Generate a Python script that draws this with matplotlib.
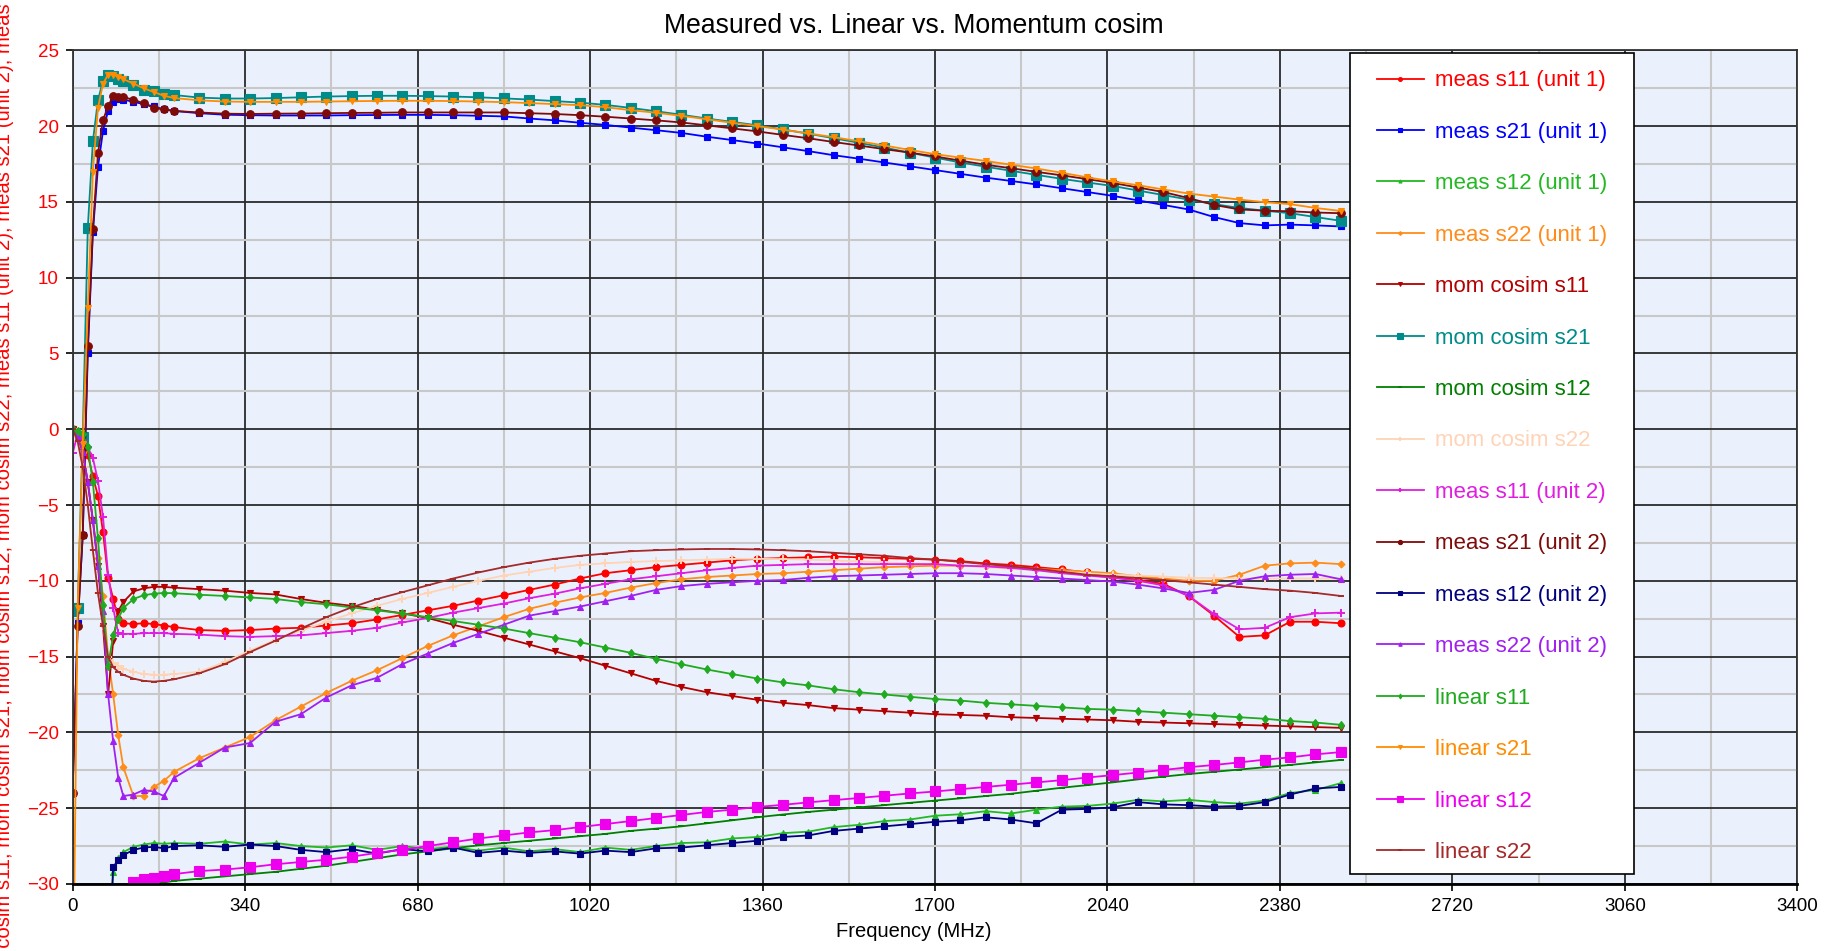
import numpy as np
import matplotlib
matplotlib.use("Agg")
import matplotlib.pyplot as plt
from matplotlib.patches import Rectangle
from matplotlib.ticker import MultipleLocator

plt.rcParams['font.family'] = ['Liberation Sans', 'DejaVu Sans']

# frequency points (MHz): fine steps over the rise, 50 MHz after that
freq = np.array([0, 10, 20, 30, 40, 50, 60, 70, 80, 90, 100, 120, 140, 160, 180, 200]
                + list(range(250, 2501, 50)))

# ---- measured, unit 1 ----
meas_s11_u1 = [0, -0.3, -0.9, -1.7, -3.1, -4.4, -6.8, -9.8, -11.2, -12.5, -12.8, -12.85, -12.8, -12.85, -12.95, -13.05,
               -13.25, -13.3, -13.25, -13.15, -13.1, -12.95, -12.8, -12.55, -12.25, -11.95,
               -11.65, -11.3, -10.95, -10.6, -10.25, -9.85, -9.5, -9.3, -9.1, -8.95,
               -8.8, -8.65, -8.55, -8.5, -8.45, -8.4, -8.45, -8.5, -8.55, -8.6,
               -8.7, -8.85, -8.95, -9.1, -9.25, -9.45, -9.7, -9.95, -10.2, -11.0,
               -12.3, -13.7, -13.6, -12.7, -12.7, -12.8]
meas_s21_u1 = [-24, -12.8, -7.0, 5.0, 13.0, 17.3, 19.7, 21.0, 21.6, 21.8, 21.75, 21.6, 21.45, 21.3, 21.1, 21.0,
               20.85, 20.75, 20.72, 20.7, 20.7, 20.7, 20.72, 20.73, 20.74, 20.74,
               20.72, 20.68, 20.64, 20.5, 20.38, 20.22, 20.08, 19.9, 19.73, 19.55,
               19.3, 19.08, 18.85, 18.6, 18.35, 18.08, 17.85, 17.6, 17.35, 17.1,
               16.85, 16.6, 16.38, 16.15, 15.9, 15.65, 15.4, 15.1, 14.8, 14.5,
               14.0, 13.6, 13.45, 13.5, 13.45, 13.38]
meas_s12_u1 = [-45, -45, -45, -44, -42, -40, -38, -36, -29.2, -28.3, -27.9, -27.55, -27.4, -27.3, -27.35, -27.3,
               -27.35, -27.2, -27.4, -27.3, -27.5, -27.6, -27.45, -27.75, -27.5, -27.7,
               -27.55, -27.8, -27.6, -27.85, -27.7, -27.9, -27.6, -27.75, -27.5, -27.3,
               -27.25, -27.0, -26.9, -26.65, -26.55, -26.25, -26.1, -25.85, -25.75, -25.5,
               -25.4, -25.2, -25.35, -25.1, -24.9, -24.85, -24.7, -24.45, -24.55, -24.45,
               -24.6, -24.7, -24.5, -24.0, -23.8, -23.35]
meas_s22_u1 = [0, -0.5, -1.5, -3.5, -6.0, -8.5, -11.0, -15.0, -17.5, -20.2, -22.3, -24.2, -24.2, -23.6, -23.2, -22.6,
               -21.7, -21.0, -20.3, -19.2, -18.3, -17.4, -16.6, -15.9, -15.1, -14.3,
               -13.6, -13.0, -12.4, -11.85, -11.45, -11.1, -10.8, -10.45, -10.15, -9.9,
               -9.75, -9.65, -9.55, -9.5, -9.4, -9.3, -9.2, -9.1, -9.05, -9.0,
               -9.0, -9.05, -9.1, -9.2, -9.3, -9.4, -9.5, -9.7, -9.85, -10.0,
               -10.0, -9.6, -9.0, -8.85, -8.8, -8.9]

# ---- momentum co-simulation ----
mom_s11 = [0, -0.5, -1.5, -3.5, -6.0, -9.0, -13.0, -17.5, -14.0, -12.0, -11.4, -10.7, -10.5, -10.4, -10.4, -10.45,
           -10.55, -10.65, -10.8, -10.9, -11.2, -11.45, -11.65, -11.9, -12.15, -12.45,
           -12.9, -13.3, -13.75, -14.2, -14.65, -15.1, -15.6, -16.1, -16.6, -17.0,
           -17.35, -17.6, -17.85, -18.05, -18.2, -18.4, -18.5, -18.6, -18.7, -18.8,
           -18.85, -18.9, -19.0, -19.05, -19.1, -19.15, -19.2, -19.3, -19.35, -19.4,
           -19.45, -19.5, -19.55, -19.6, -19.65, -19.7]
mom_s21 = [-12.0, -11.8, -0.5, 13.3, 19.0, 21.7, 23.0, 23.35, 23.3, 23.1, 22.95, 22.7, 22.4, 22.3, 22.15, 22.05,
           21.88, 21.82, 21.82, 21.85, 21.9, 21.95, 21.98, 22.0, 22.0, 21.98,
           21.95, 21.9, 21.83, 21.75, 21.65, 21.55, 21.4, 21.2, 20.98, 20.75,
           20.5, 20.28, 20.05, 19.78, 19.5, 19.2, 18.9, 18.58, 18.25, 17.92,
           17.6, 17.32, 17.05, 16.78, 16.52, 16.28, 16.05, 15.75, 15.45, 15.15,
           14.85, 14.6, 14.42, 14.25, 14.0, 13.75]
mom_s12 = [-50, -48, -45, -42, -40, -38, -36, -34.5, -33.2, -32.2, -31.5, -30.8, -30.35, -30.0, -29.9, -29.8,
           -29.65, -29.5, -29.35, -29.2, -29.0, -28.8, -28.55, -28.3, -28.05, -27.85,
           -27.65, -27.45, -27.3, -27.15, -27.0, -26.85, -26.7, -26.5, -26.35, -26.2,
           -26.0, -25.8, -25.6, -25.42, -25.25, -25.1, -24.95, -24.8, -24.65, -24.5,
           -24.35, -24.2, -24.05, -23.85, -23.65, -23.48, -23.3, -23.1, -22.92, -22.75,
           -22.6, -22.45, -22.3, -22.15, -21.98, -21.82]
mom_s22 = [0, -0.8, -2.5, -5.0, -8.0, -10.8, -13.0, -15.0, -15.4, -15.6, -15.8, -16.0, -16.15, -16.2, -16.2, -16.15,
           -16.0, -15.35, -14.6, -13.9, -13.3, -12.7, -12.15, -11.65, -11.2, -10.8,
           -10.4, -10.0, -9.65, -9.4, -9.15, -8.95, -8.85, -8.75, -8.7, -8.65,
           -8.6, -8.55, -8.55, -8.57, -8.6, -8.66, -8.72, -8.78, -8.85, -8.9,
           -9.0, -9.1, -9.2, -9.3, -9.4, -9.5, -9.6, -9.65, -9.72, -9.8,
           -9.82, -9.85, -9.85, -9.85, -9.85, -9.85]

# ---- measured, unit 2 ----
meas_s11_u2 = [-1.6, -0.3, -0.7, -1.2, -1.9, -3.4, -5.8, -9.6, -11.8, -13.45, -13.5, -13.5, -13.45, -13.45, -13.45, -13.5,
               -13.55, -13.65, -13.7, -13.65, -13.6, -13.45, -13.3, -13.1, -12.75, -12.45,
               -12.1, -11.8, -11.5, -11.15, -10.85, -10.5, -10.2, -9.9, -9.7, -9.5,
               -9.3, -9.15, -9.0, -8.95, -8.9, -8.9, -8.9, -8.9, -8.9, -8.9,
               -9.0, -9.05, -9.15, -9.3, -9.5, -9.65, -9.8, -10.0, -10.3, -11.0,
               -12.2, -13.2, -13.1, -12.4, -12.15, -12.1]
meas_s21_u2 = [-24, -13.0, -7.0, 5.5, 13.2, 18.2, 20.4, 21.3, 22.0, 21.95, 21.9, 21.75, 21.5, 21.2, 21.1, 21.0,
               20.9, 20.82, 20.8, 20.82, 20.83, 20.85, 20.87, 20.88, 20.9, 20.9,
               20.9, 20.9, 20.9, 20.85, 20.8, 20.72, 20.62, 20.5, 20.38, 20.24,
               20.05, 19.85, 19.65, 19.42, 19.2, 18.95, 18.72, 18.48, 18.25, 18.0,
               17.72, 17.45, 17.22, 16.98, 16.75, 16.5, 16.25, 15.95, 15.65, 15.25,
               14.8, 14.5, 14.42, 14.38, 14.3, 14.25]
meas_s12_u2 = [-45, -45, -45, -44, -42, -40, -38, -36, -28.9, -28.4, -28.1, -27.75, -27.6, -27.55, -27.65, -27.5,
               -27.45, -27.55, -27.4, -27.5, -27.75, -27.9, -27.7, -28.0, -27.7, -27.85,
               -27.6, -27.95, -27.8, -27.95, -27.85, -28.0, -27.8, -27.9, -27.65, -27.6,
               -27.45, -27.3, -27.15, -26.9, -26.8, -26.5, -26.35, -26.2, -26.05, -25.9,
               -25.8, -25.6, -25.75, -26.0, -25.1, -25.05, -24.95, -24.6, -24.75, -24.8,
               -24.9, -24.85, -24.6, -24.1, -23.7, -23.6]
meas_s22_u2 = [0, -0.5, -1.5, -3.5, -6.0, -9.0, -12.0, -17.5, -20.6, -23.0, -24.2, -24.1, -23.8, -23.9, -24.2, -23.0,
               -22.0, -21.0, -20.7, -19.3, -18.8, -17.7, -16.9, -16.4, -15.5, -14.8,
               -14.1, -13.5, -12.9, -12.3, -12.0, -11.7, -11.35, -11.0, -10.6, -10.35,
               -10.2, -10.1, -10.0, -9.95, -9.8, -9.7, -9.65, -9.6, -9.55, -9.5,
               -9.5, -9.55, -9.65, -9.75, -9.85, -9.95, -10.05, -10.25, -10.5, -10.8,
               -10.6, -10.0, -9.7, -9.6, -9.55, -9.9]

# ---- linear simulation ----
linear_s11 = [0, -0.1, -0.3, -1.2, -3.5, -7.2, -11.6, -15.6, -13.6, -12.5, -11.8, -11.2, -10.95, -10.85, -10.8, -10.82,
              -10.92, -11.0, -11.1, -11.2, -11.4, -11.55, -11.75, -11.95, -12.15, -12.4,
              -12.65, -12.9, -13.15, -13.45, -13.75, -14.05, -14.4, -14.75, -15.15, -15.5,
              -15.85, -16.15, -16.45, -16.7, -16.9, -17.15, -17.35, -17.5, -17.65, -17.8,
              -17.9, -18.05, -18.15, -18.25, -18.35, -18.45, -18.5, -18.6, -18.7, -18.8,
              -18.9, -19.0, -19.1, -19.25, -19.35, -19.5]
linear_s21 = [-40, -11.8, -1.0, 8.0, 17.0, 21.2, 22.8, 23.4, 23.4, 23.25, 23.1, 22.8, 22.5, 22.25, 22.0, 21.85,
              21.7, 21.62, 21.6, 21.6, 21.6, 21.62, 21.64, 21.66, 21.67, 21.67,
              21.65, 21.62, 21.58, 21.52, 21.45, 21.38, 21.25, 21.05, 20.88, 20.68,
              20.45, 20.22, 20.0, 19.77, 19.52, 19.27, 19.0, 18.72, 18.43, 18.15,
              17.92, 17.7, 17.45, 17.2, 16.92, 16.62, 16.35, 16.1, 15.82, 15.55,
              15.35, 15.15, 14.98, 14.85, 14.6, 14.4]
linear_s12 = [-50, -45, -42, -39, -37, -35, -33.5, -32.3, -31.5, -30.8, -30.3, -29.85, -29.7, -29.6, -29.45, -29.35,
              -29.15, -29.05, -28.9, -28.7, -28.55, -28.4, -28.2, -27.95, -27.75, -27.5,
              -27.25, -27.0, -26.8, -26.6, -26.45, -26.25, -26.05, -25.85, -25.65, -25.45,
              -25.25, -25.1, -24.92, -24.78, -24.62, -24.47, -24.33, -24.18, -24.03, -23.9,
              -23.75, -23.6, -23.45, -23.3, -23.15, -22.98, -22.82, -22.65, -22.48, -22.3,
              -22.15, -21.98, -21.8, -21.65, -21.45, -21.3]
linear_s22 = [0, -0.8, -2.5, -5.0, -8.0, -10.8, -13.0, -15.0, -15.7, -16.0, -16.2, -16.45, -16.6, -16.65, -16.6, -16.5,
              -16.1, -15.5, -14.7, -13.95, -13.15, -12.4, -11.75, -11.2, -10.75, -10.3,
              -9.85, -9.45, -9.1, -8.8, -8.55, -8.35, -8.2, -8.05, -7.98, -7.93,
              -7.9, -7.9, -7.93, -7.98, -8.05, -8.15, -8.25, -8.35, -8.5, -8.6,
              -8.75, -8.9, -9.05, -9.2, -9.4, -9.6, -9.7, -9.82, -9.95, -10.1,
              -10.25, -10.4, -10.55, -10.65, -10.8, -11.0]

# label, data, color, marker, markersize
series = [
    ("meas s11 (unit 1)", meas_s11_u1, "#ff0000", "o", 5),
    ("meas s21 (unit 1)", meas_s21_u1, "#0000ff", "s", 5),
    ("meas s12 (unit 1)", meas_s12_u1, "#22b922", "^", 4),
    ("meas s22 (unit 1)", meas_s22_u1, "#ff8c1a", "D", 3.5),
    ("mom cosim s11", mom_s11, "#b30000", "v", 5),
    ("mom cosim s21", mom_s21, "#008b8b", "s", 7),
    ("mom cosim s12", mom_s12, "#007f00", "_", 4),
    ("mom cosim s22", mom_s22, "#ffd3b5", "+", 6),
    ("meas s11 (unit 2)", meas_s11_u2, "#e01ee0", "+", 6),
    ("meas s21 (unit 2)", meas_s21_u2, "#7f0a0a", "o", 5.5),
    ("meas s12 (unit 2)", meas_s12_u2, "#000080", "s", 5),
    ("meas s22 (unit 2)", meas_s22_u2, "#a020f0", "^", 4.5),
    ("linear s11", linear_s11, "#1faa1f", "d", 4.5),
    ("linear s21", linear_s21, "#ff8c00", "v", 5),
    ("linear s12", linear_s12, "#ee00ee", "s", 7),
    ("linear s22", linear_s22, "#a52a2a", "_", 5),
]

fig = plt.figure(figsize=(18.33, 9.51), dpi=100)
ax = fig.add_axes([0.0396, 0.0705, 0.9410, 0.8766])
ax.set_facecolor("#ebf1fc")

handles = []
for label, vals, color, marker, ms in series:
    h, = ax.plot(freq, vals, color=color, lw=1.3, marker=marker, ms=ms,
                 mew=1.4 if marker in "+_" else 0.8, label=label, zorder=2)
    handles.append(h)

ax.set_xlim(0, 3400)
ax.set_ylim(-30, 25)
ax.set_xticks(np.arange(0, 3401, 340))
ax.set_yticks(np.arange(-30, 26, 5))
ax.xaxis.set_minor_locator(MultipleLocator(170))
ax.yaxis.set_minor_locator(MultipleLocator(2.5))
ax.set_axisbelow(True)
ax.grid(which="major", color="#2a2a2a", lw=1.3)
ax.grid(which="minor", color="#c8c8c8", lw=1.5)
ax.tick_params(which="major", length=5, width=1.2, labelsize=13.5, pad=5)
ax.tick_params(which="minor", length=0)
ax.tick_params(axis="y", labelcolor="#ff0000")
for side in ["left", "top", "right"]:
    ax.spines[side].set_color("#333333")
    ax.spines[side].set_linewidth(1.3)
ax.spines["bottom"].set_color("#000000")
ax.spines["bottom"].set_linewidth(2)

# long axis title: it runs off both ends of the picture, as in the original
ylabel = ", ".join(lbl for lbl, *_ in series)
ax.set_ylabel(ylabel, color="#ff0000", fontsize=14.6)
ax.yaxis.set_label_coords(-0.034, 0.459)

fig.text(0.4984, 0.9727, "Measured vs. Linear vs. Momentum cosim", ha="center", va="center", fontsize=19.2)
fig.text(0.4984, 0.020, "Frequency (MHz)", ha="center", va="center", fontsize=14.5)

# legend box drawn by hand so the paddings match
ax.add_patch(Rectangle((0.7406, 0.0115), 0.1646, 0.9854, transform=ax.transAxes,
                       facecolor="white", edgecolor="black", lw=1.2, zorder=4))
leg = ax.legend(handles=handles, loc="upper left", bbox_to_anchor=(0.7562, 0.976),
                frameon=False, fontsize=16, labelcolor="linecolor", borderpad=0,
                borderaxespad=0, handlelength=2.12, handletextpad=0.5,
                labelspacing=1.37, markerscale=0.55)
leg.set_zorder(5)

fig.savefig("out.png", dpi=100)
